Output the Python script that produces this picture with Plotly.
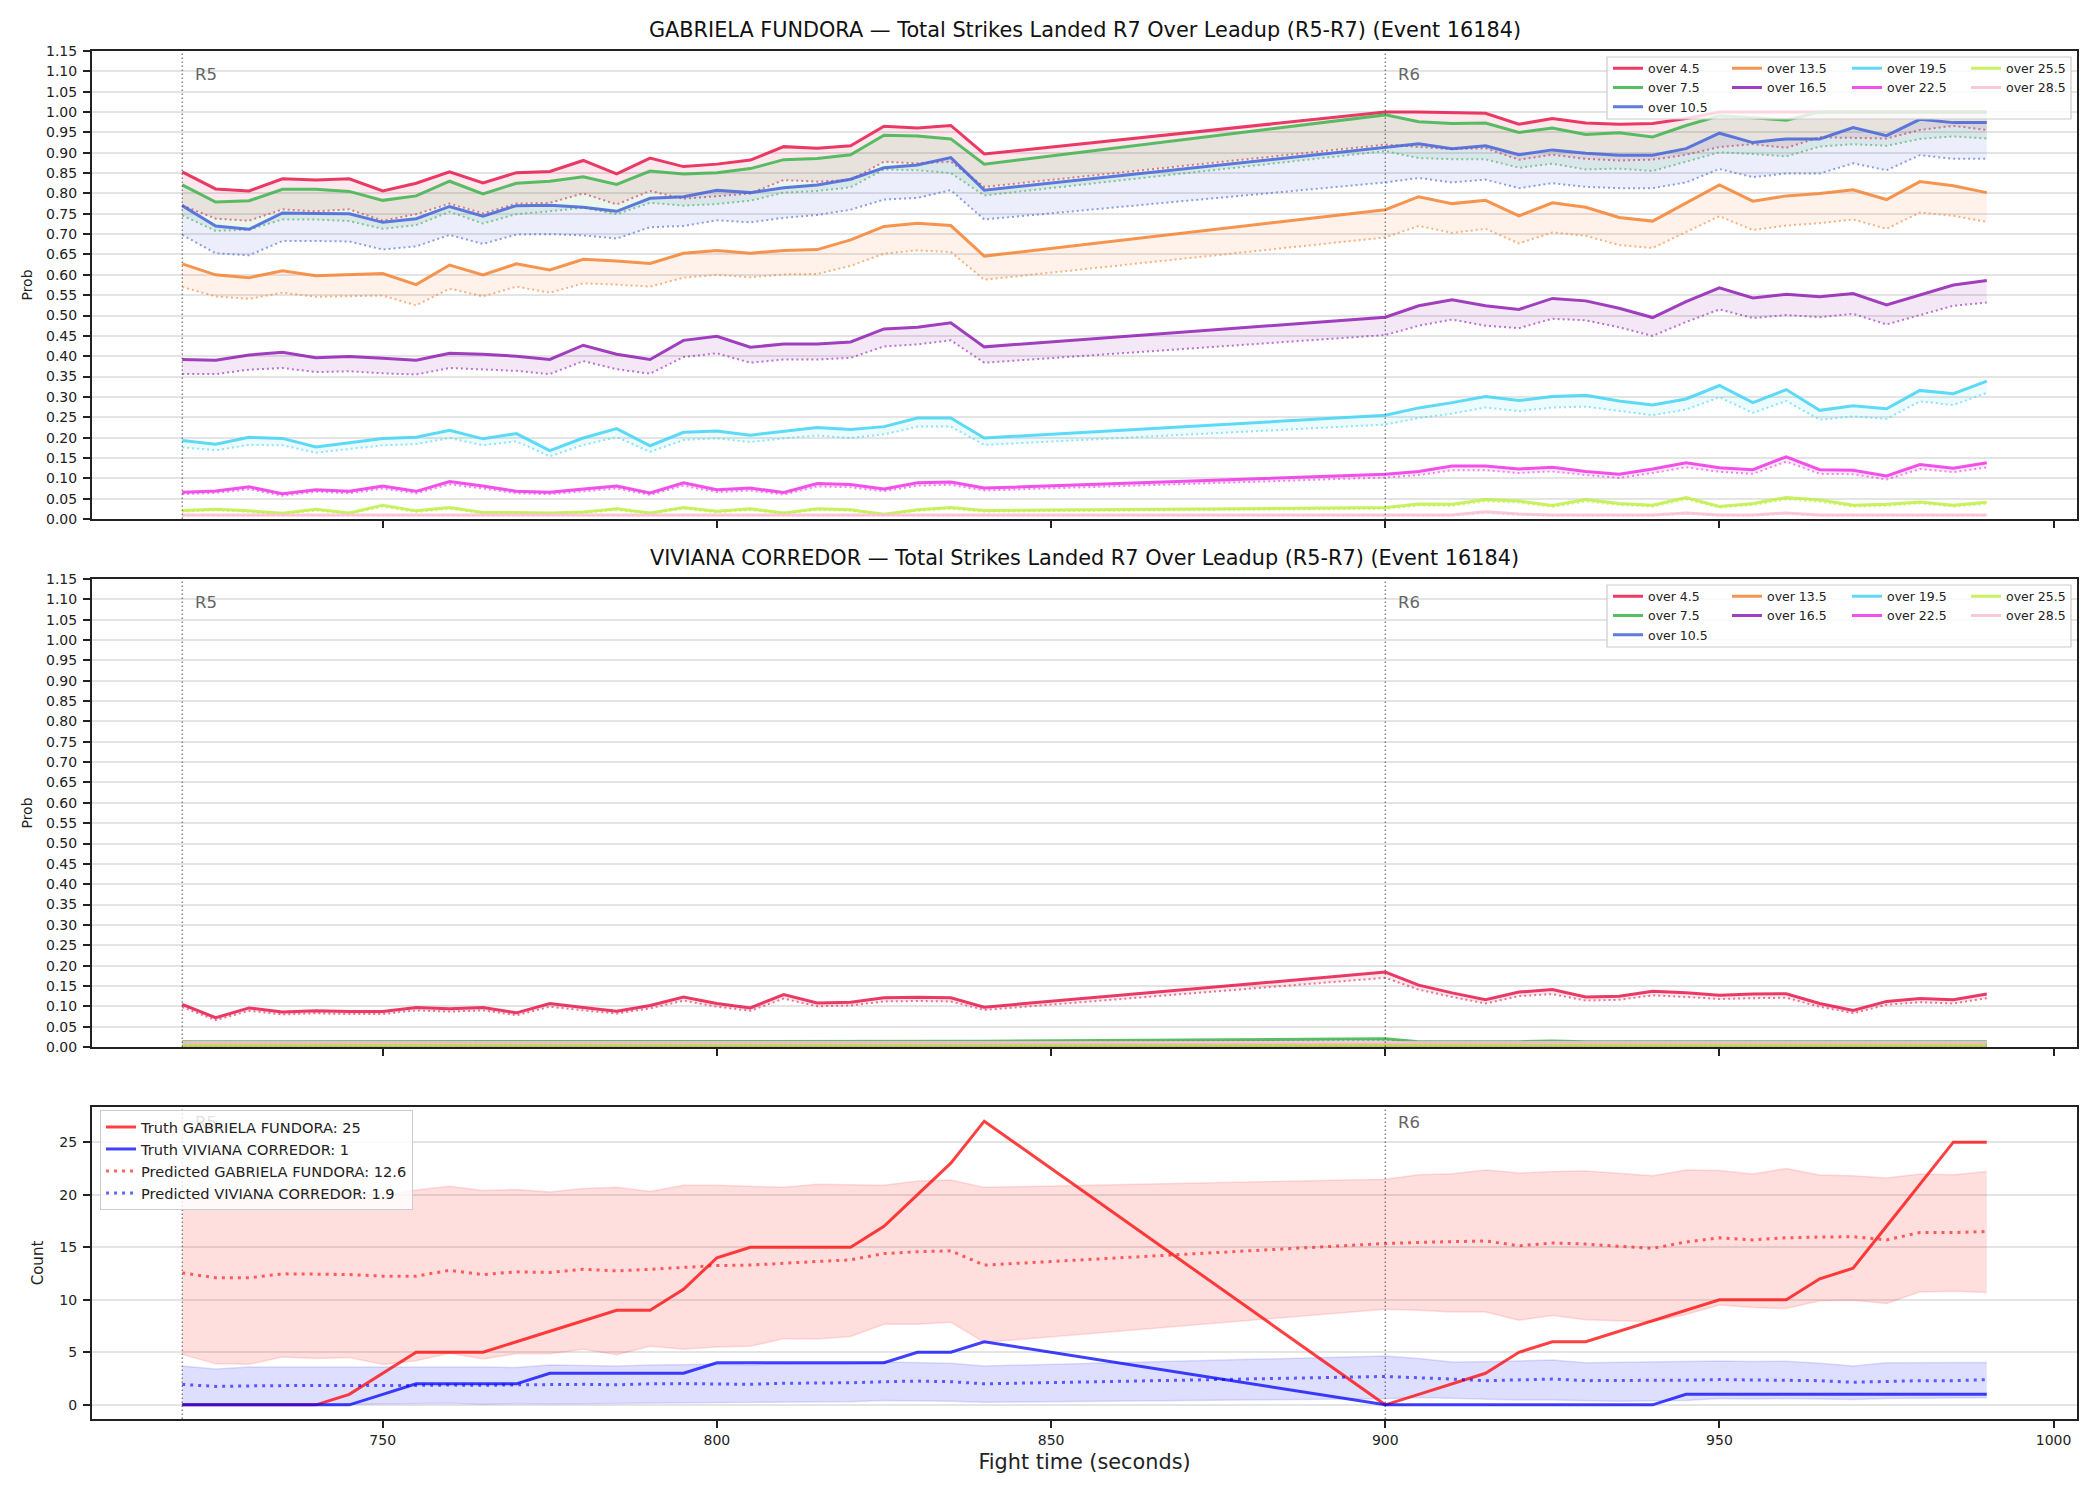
import plotly.graph_objects as go

W, H = 2100, 1500
FONT = "DejaVu Sans"

# ---------------- data ----------------
times = [720, 725, 730, 735, 740, 745, 750, 755, 760, 765, 770, 775, 780, 785, 790, 795,
         800, 805, 810, 815, 820, 825, 830, 835, 840,
         900, 905, 910, 915, 920, 925, 930, 935, 940, 945, 950, 955, 960, 965, 970, 975,
         980, 985, 990]

line_names = ["over 4.5", "over 7.5", "over 10.5", "over 13.5", "over 16.5",
              "over 19.5", "over 22.5", "over 25.5", "over 28.5"]

# GABRIELA FUNDORA (solid = a, dotted = b)
gf_o45_a = [0.853, 0.811, 0.806, 0.836, 0.833, 0.836, 0.806, 0.825, 0.853, 0.826, 0.851, 0.854, 0.881, 0.848, 0.887, 0.866, 0.872, 0.882, 0.915, 0.911, 0.917, 0.965, 0.961, 0.967, 0.897,
            1.000, 1.000, 0.999, 0.997, 0.970, 0.984, 0.973, 0.970, 0.972, 0.984, 1.000, 1.000, 1.000, 1.000, 1.000, 1.000, 1.000, 1.000, 1.000]
gf_o45_b = [0.771, 0.738, 0.733, 0.761, 0.756, 0.761, 0.733, 0.749, 0.775, 0.751, 0.775, 0.777, 0.800, 0.773, 0.806, 0.787, 0.793, 0.800, 0.833, 0.829, 0.833, 0.878, 0.874, 0.878, 0.816,
            0.920, 0.914, 0.909, 0.911, 0.883, 0.895, 0.885, 0.881, 0.883, 0.895, 0.914, 0.921, 0.912, 0.938, 0.936, 0.935, 0.956, 0.966, 0.956]
gf_o75_a = [0.821, 0.779, 0.782, 0.810, 0.810, 0.805, 0.783, 0.794, 0.830, 0.799, 0.825, 0.830, 0.841, 0.822, 0.855, 0.848, 0.851, 0.861, 0.883, 0.886, 0.895, 0.943, 0.941, 0.934, 0.872,
            0.993, 0.976, 0.972, 0.973, 0.950, 0.961, 0.945, 0.949, 0.939, 0.967, 0.991, 0.986, 0.980, 1.000, 1.000, 1.000, 1.000, 1.000, 1.000]
gf_o75_b = [0.746, 0.708, 0.711, 0.736, 0.736, 0.732, 0.713, 0.722, 0.755, 0.726, 0.749, 0.756, 0.765, 0.749, 0.777, 0.770, 0.774, 0.782, 0.802, 0.806, 0.815, 0.859, 0.857, 0.850, 0.795,
            0.904, 0.887, 0.884, 0.884, 0.863, 0.873, 0.859, 0.861, 0.855, 0.878, 0.901, 0.897, 0.891, 0.915, 0.921, 0.917, 0.934, 0.940, 0.935]
gf_o105_a = [0.770, 0.720, 0.712, 0.752, 0.751, 0.750, 0.729, 0.738, 0.768, 0.744, 0.770, 0.771, 0.766, 0.756, 0.788, 0.792, 0.808, 0.802, 0.814, 0.821, 0.835, 0.863, 0.870, 0.888, 0.808,
             0.912, 0.922, 0.910, 0.917, 0.895, 0.907, 0.899, 0.894, 0.894, 0.910, 0.948, 0.925, 0.934, 0.934, 0.962, 0.942, 0.982, 0.974, 0.974]
gf_o105_b = [0.698, 0.653, 0.648, 0.683, 0.683, 0.682, 0.662, 0.670, 0.698, 0.676, 0.699, 0.700, 0.697, 0.689, 0.717, 0.720, 0.734, 0.729, 0.740, 0.747, 0.760, 0.785, 0.789, 0.808, 0.736,
             0.827, 0.838, 0.827, 0.834, 0.813, 0.825, 0.816, 0.813, 0.813, 0.827, 0.860, 0.840, 0.849, 0.849, 0.874, 0.857, 0.894, 0.885, 0.885]
gf_o135_a = [0.627, 0.600, 0.593, 0.610, 0.598, 0.600, 0.603, 0.576, 0.624, 0.600, 0.627, 0.612, 0.638, 0.634, 0.628, 0.653, 0.660, 0.653, 0.660, 0.662, 0.686, 0.719, 0.727, 0.721, 0.646,
             0.760, 0.792, 0.775, 0.783, 0.745, 0.777, 0.766, 0.741, 0.732, 0.777, 0.821, 0.781, 0.794, 0.800, 0.809, 0.785, 0.829, 0.819, 0.802]
gf_o135_b = [0.570, 0.547, 0.541, 0.556, 0.546, 0.547, 0.549, 0.525, 0.566, 0.547, 0.571, 0.556, 0.579, 0.576, 0.571, 0.593, 0.600, 0.594, 0.601, 0.602, 0.622, 0.652, 0.660, 0.656, 0.588,
             0.692, 0.720, 0.703, 0.713, 0.677, 0.704, 0.696, 0.673, 0.666, 0.704, 0.744, 0.710, 0.721, 0.727, 0.736, 0.713, 0.753, 0.745, 0.730]
gf_o165_a = [0.392, 0.390, 0.403, 0.410, 0.396, 0.399, 0.395, 0.390, 0.407, 0.405, 0.400, 0.392, 0.427, 0.405, 0.392, 0.439, 0.449, 0.422, 0.430, 0.430, 0.435, 0.467, 0.471, 0.482, 0.423,
             0.496, 0.524, 0.539, 0.524, 0.515, 0.542, 0.536, 0.518, 0.495, 0.534, 0.568, 0.543, 0.552, 0.546, 0.554, 0.526, 0.551, 0.575, 0.586]
gf_o165_b = [0.356, 0.356, 0.367, 0.371, 0.361, 0.363, 0.358, 0.355, 0.371, 0.368, 0.364, 0.356, 0.388, 0.368, 0.357, 0.398, 0.407, 0.384, 0.392, 0.392, 0.396, 0.424, 0.429, 0.439, 0.384,
             0.452, 0.475, 0.490, 0.475, 0.469, 0.492, 0.488, 0.471, 0.450, 0.484, 0.515, 0.494, 0.501, 0.496, 0.504, 0.478, 0.501, 0.524, 0.532]
gf_o195_a = [0.193, 0.184, 0.201, 0.198, 0.177, 0.187, 0.198, 0.201, 0.218, 0.197, 0.210, 0.168, 0.199, 0.222, 0.180, 0.213, 0.216, 0.206, 0.216, 0.225, 0.220, 0.227, 0.248, 0.248, 0.199,
             0.255, 0.273, 0.286, 0.301, 0.291, 0.301, 0.304, 0.290, 0.280, 0.295, 0.328, 0.286, 0.318, 0.267, 0.278, 0.271, 0.316, 0.308, 0.339]
gf_o195_b = [0.176, 0.169, 0.182, 0.181, 0.163, 0.172, 0.181, 0.184, 0.199, 0.181, 0.191, 0.154, 0.182, 0.201, 0.165, 0.194, 0.198, 0.189, 0.198, 0.205, 0.199, 0.208, 0.227, 0.227, 0.182,
             0.232, 0.248, 0.259, 0.274, 0.265, 0.274, 0.276, 0.265, 0.255, 0.269, 0.299, 0.261, 0.290, 0.244, 0.252, 0.246, 0.289, 0.280, 0.310]
gf_o225_a = [0.066, 0.069, 0.079, 0.062, 0.072, 0.068, 0.081, 0.068, 0.092, 0.081, 0.068, 0.066, 0.074, 0.081, 0.064, 0.089, 0.072, 0.076, 0.065, 0.087, 0.085, 0.074, 0.089, 0.091, 0.076,
             0.110, 0.117, 0.130, 0.130, 0.123, 0.127, 0.117, 0.110, 0.123, 0.138, 0.126, 0.121, 0.153, 0.121, 0.120, 0.106, 0.134, 0.125, 0.138]
gf_o225_b = [0.061, 0.064, 0.073, 0.057, 0.067, 0.063, 0.075, 0.063, 0.085, 0.075, 0.063, 0.061, 0.068, 0.075, 0.059, 0.082, 0.066, 0.070, 0.060, 0.080, 0.078, 0.068, 0.082, 0.084, 0.070,
             0.102, 0.108, 0.120, 0.120, 0.113, 0.117, 0.108, 0.101, 0.113, 0.127, 0.116, 0.111, 0.141, 0.111, 0.110, 0.097, 0.123, 0.115, 0.127]
gf_o255_a = [0.021, 0.024, 0.020, 0.014, 0.024, 0.015, 0.034, 0.020, 0.028, 0.016, 0.016, 0.015, 0.017, 0.025, 0.015, 0.028, 0.019, 0.025, 0.015, 0.025, 0.023, 0.012, 0.023, 0.028, 0.021,
             0.028, 0.037, 0.036, 0.048, 0.044, 0.033, 0.048, 0.038, 0.034, 0.053, 0.031, 0.038, 0.053, 0.047, 0.034, 0.036, 0.042, 0.034, 0.041]
gf_o255_b = [0.018, 0.021, 0.017, 0.012, 0.021, 0.013, 0.030, 0.017, 0.025, 0.014, 0.014, 0.013, 0.015, 0.022, 0.013, 0.025, 0.016, 0.022, 0.013, 0.022, 0.020, 0.010, 0.020, 0.025, 0.018,
             0.025, 0.033, 0.032, 0.043, 0.040, 0.029, 0.043, 0.034, 0.030, 0.048, 0.028, 0.034, 0.048, 0.042, 0.030, 0.032, 0.038, 0.030, 0.037]
gf_o285_a = [0.010, 0.010, 0.010, 0.010, 0.010, 0.010, 0.010, 0.010, 0.010, 0.010, 0.010, 0.010, 0.010, 0.010, 0.010, 0.010, 0.010, 0.010, 0.010, 0.010, 0.010, 0.010, 0.010, 0.010, 0.010,
             0.011, 0.010, 0.010, 0.018, 0.012, 0.010, 0.010, 0.010, 0.010, 0.015, 0.010, 0.010, 0.015, 0.010, 0.010, 0.010, 0.010, 0.010, 0.010]
gf_o285_b = [0.008, 0.008, 0.008, 0.008, 0.008, 0.008, 0.008, 0.008, 0.008, 0.008, 0.008, 0.008, 0.008, 0.008, 0.008, 0.008, 0.008, 0.008, 0.008, 0.008, 0.008, 0.008, 0.008, 0.008, 0.008,
             0.009, 0.008, 0.008, 0.015, 0.010, 0.008, 0.008, 0.008, 0.008, 0.013, 0.008, 0.008, 0.013, 0.008, 0.008, 0.008, 0.008, 0.008, 0.008]

# VIVIANA CORREDOR
vc_o45_a = [0.105, 0.072, 0.096, 0.086, 0.089, 0.087, 0.087, 0.097, 0.094, 0.097, 0.084, 0.107, 0.097, 0.088, 0.102, 0.123, 0.107, 0.096, 0.129, 0.108, 0.110, 0.121, 0.122, 0.121, 0.098,
            0.184, 0.152, 0.133, 0.116, 0.135, 0.141, 0.123, 0.125, 0.137, 0.133, 0.127, 0.130, 0.131, 0.107, 0.090, 0.112, 0.119, 0.116, 0.130]
vc_o45_b = [0.098, 0.066, 0.089, 0.080, 0.083, 0.081, 0.081, 0.090, 0.087, 0.090, 0.078, 0.099, 0.090, 0.082, 0.095, 0.114, 0.099, 0.089, 0.119, 0.100, 0.102, 0.112, 0.113, 0.112, 0.091,
            0.170, 0.141, 0.123, 0.107, 0.125, 0.130, 0.114, 0.116, 0.127, 0.123, 0.118, 0.120, 0.121, 0.099, 0.083, 0.104, 0.110, 0.107, 0.120]
vc_o75_a = [0.013, 0.013, 0.013, 0.013, 0.013, 0.013, 0.013, 0.013, 0.013, 0.013, 0.013, 0.013, 0.013, 0.013, 0.013, 0.013, 0.013, 0.013, 0.014, 0.013, 0.013, 0.014, 0.014, 0.014, 0.014,
            0.020, 0.013, 0.013, 0.013, 0.013, 0.015, 0.013, 0.013, 0.013, 0.013, 0.014, 0.013, 0.013, 0.013, 0.013, 0.013, 0.013, 0.013, 0.013]
vc_o75_b = [0.011, 0.011, 0.011, 0.011, 0.011, 0.011, 0.011, 0.011, 0.011, 0.011, 0.011, 0.011, 0.011, 0.011, 0.011, 0.011, 0.011, 0.011, 0.012, 0.011, 0.011, 0.012, 0.012, 0.012, 0.012,
            0.017, 0.011, 0.011, 0.011, 0.011, 0.012, 0.011, 0.011, 0.011, 0.011, 0.012, 0.011, 0.011, 0.011, 0.011, 0.011, 0.011, 0.011, 0.011]
vc_mid_a = [0.004, 0.004, 0.004, 0.004, 0.004, 0.004, 0.004, 0.004, 0.004, 0.004, 0.004, 0.004, 0.004, 0.004, 0.004, 0.004, 0.004, 0.004, 0.004, 0.004, 0.004, 0.004, 0.004, 0.004, 0.004,
            0.004, 0.004, 0.004, 0.004, 0.004, 0.004, 0.004, 0.004, 0.004, 0.004, 0.004, 0.004, 0.004, 0.004, 0.004, 0.004, 0.004, 0.004, 0.004]
vc_mid_b = [0.003, 0.003, 0.003, 0.003, 0.003, 0.003, 0.003, 0.003, 0.003, 0.003, 0.003, 0.003, 0.003, 0.003, 0.003, 0.003, 0.003, 0.003, 0.003, 0.003, 0.003, 0.003, 0.003, 0.003, 0.003,
            0.003, 0.003, 0.003, 0.003, 0.003, 0.003, 0.003, 0.003, 0.003, 0.003, 0.003, 0.003, 0.003, 0.003, 0.003, 0.003, 0.003, 0.003, 0.003]
vc_o285_a = [0.011, 0.011, 0.011, 0.011, 0.011, 0.011, 0.011, 0.011, 0.011, 0.011, 0.011, 0.011, 0.011, 0.011, 0.011, 0.011, 0.011, 0.011, 0.011, 0.011, 0.011, 0.011, 0.011, 0.011, 0.011,
             0.011, 0.011, 0.011, 0.011, 0.011, 0.011, 0.011, 0.011, 0.011, 0.011, 0.011, 0.011, 0.011, 0.011, 0.011, 0.011, 0.011, 0.011, 0.011]
vc_o285_b = [0.009, 0.009, 0.009, 0.009, 0.009, 0.009, 0.009, 0.009, 0.009, 0.009, 0.009, 0.009, 0.009, 0.009, 0.009, 0.009, 0.009, 0.009, 0.009, 0.009, 0.009, 0.009, 0.009, 0.009, 0.009,
             0.009, 0.009, 0.009, 0.009, 0.009, 0.009, 0.009, 0.009, 0.009, 0.009, 0.009, 0.009, 0.009, 0.009, 0.009, 0.009, 0.009, 0.009, 0.009]

# Count panel
truth_gf = [0, 0, 0, 0, 0, 1, 3, 5, 5, 5, 6, 7, 8, 9, 9, 11, 14, 15, 15, 15, 15, 17, 20, 23, 27,
            0, 1, 2, 3, 5, 6, 6, 7, 8, 9, 10, 10, 10, 12, 13, 17, 21, 25, 25]
truth_vc = [0, 0, 0, 0, 0, 0, 1, 2, 2, 2, 2, 3, 3, 3, 3, 3, 4, 4, 4, 4, 4, 4, 5, 5, 6,
            0, 0, 0, 0, 0, 0, 0, 0, 0, 1, 1, 1, 1, 1, 1, 1, 1, 1, 1]
pred_gf = [12.56, 12.09, 12.09, 12.47, 12.44, 12.40, 12.25, 12.25, 12.80, 12.40, 12.66, 12.60, 12.90, 12.75, 12.90, 13.10, 13.26, 13.30, 13.50, 13.65, 13.80, 14.40, 14.57, 14.66, 13.30,
           15.36, 15.46, 15.50, 15.60, 15.14, 15.40, 15.30, 15.08, 14.89, 15.50, 15.90, 15.70, 15.90, 15.97, 16.00, 15.70, 16.40, 16.40, 16.50]
gf_hi = [20.3, 19.8, 19.9, 20.3, 20.2, 20.3, 19.9, 20.45, 20.8, 20.4, 20.5, 20.26, 20.58, 20.7, 20.3, 20.9, 20.9, 20.8, 20.7, 21.0, 20.96, 20.9, 21.3, 21.4, 20.7,
         21.47, 21.9, 22.0, 22.36, 22.07, 22.2, 22.26, 22.04, 21.8, 22.36, 22.3, 21.98, 22.5, 21.88, 21.8, 21.6, 21.98, 21.9, 22.2]
gf_lo = [4.8, 3.9, 3.85, 4.55, 4.4, 4.5, 3.85, 4.2, 4.9, 4.36, 4.87, 4.87, 5.3, 4.77, 5.57, 5.3, 5.5, 5.57, 6.3, 6.27, 6.5, 7.67, 7.67, 7.86, 5.95,
         9.1, 9.0, 8.84, 8.84, 8.05, 8.5, 8.1, 8.0, 7.9, 8.6, 9.5, 9.26, 9.16, 9.9, 9.96, 9.64, 10.75, 10.8, 10.7]
pred_vc = [1.94, 1.75, 1.80, 1.85, 1.85, 1.85, 1.82, 1.85, 1.88, 1.85, 1.90, 1.95, 1.95, 1.90, 2.00, 2.02, 2.00, 1.95, 2.05, 2.05, 2.10, 2.20, 2.26, 2.20, 2.00,
           2.70, 2.60, 2.45, 2.30, 2.35, 2.45, 2.30, 2.30, 2.30, 2.35, 2.40, 2.35, 2.35, 2.30, 2.15, 2.25, 2.30, 2.30, 2.40]
vc_hi = [3.7, 3.4, 3.6, 3.6, 3.6, 3.58, 3.6, 3.65, 3.65, 3.6, 3.55, 3.8, 3.75, 3.7, 3.8, 3.85, 3.85, 3.8, 3.9, 3.85, 3.9, 4.07, 4.0, 3.95, 3.7,
         4.64, 4.4, 4.07, 4.1, 4.17, 4.26, 4.0, 4.05, 4.1, 4.12, 4.17, 4.12, 4.15, 3.95, 3.7, 4.0, 4.02, 4.04, 4.04]
vc_lo = [0.03, 0.02, 0.05, 0.05, 0.05, 0.05, 0.08, 0.1, 0.15, 0.05, 0.12, 0.08, 0.1, 0.12, 0.15, 0.15, 0.18, 0.2, 0.25, 0.28, 0.3, 0.4, 0.4, 0.35, 0.25,
         0.57, 0.7, 0.6, 0.5, 0.45, 0.45, 0.4, 0.35, 0.38, 0.4, 0.6, 0.55, 0.6, 0.55, 0.5, 0.6, 0.62, 0.65, 0.67]

round_marks = [720, 900]
round_labels = ["R5", "R6"]
prob_ticks = [0.00, 0.05, 0.10, 0.15, 0.20, 0.25, 0.30, 0.35, 0.40, 0.45, 0.50, 0.55,
              0.60, 0.65, 0.70, 0.75, 0.80, 0.85, 0.90, 0.95, 1.00, 1.05, 1.10, 1.15]
count_ticks = [0, 5, 10, 15, 20, 25]
x_ticks = [750, 800, 850, 900, 950, 1000]

palette = [(230, 25, 75), (60, 180, 75), (67, 99, 216), (245, 130, 49), (145, 30, 180),
           (66, 212, 244), (240, 50, 230), (191, 239, 69), (250, 190, 212)]

gf_series = [(gf_o45_a, gf_o45_b), (gf_o75_a, gf_o75_b), (gf_o105_a, gf_o105_b),
             (gf_o135_a, gf_o135_b), (gf_o165_a, gf_o165_b), (gf_o195_a, gf_o195_b),
             (gf_o225_a, gf_o225_b), (gf_o255_a, gf_o255_b), (gf_o285_a, gf_o285_b)]
vc_series = [(vc_o45_a, vc_o45_b), (vc_o75_a, vc_o75_b), (vc_mid_a, vc_mid_b),
             (vc_mid_a, vc_mid_b), (vc_mid_a, vc_mid_b), (vc_mid_a, vc_mid_b),
             (vc_mid_a, vc_mid_b), (vc_mid_a, vc_mid_b), (vc_o285_a, vc_o285_b)]


def rgba(c, a):
    return f"rgba({c[0]},{c[1]},{c[2]},{a})"


def px(p):
    return p / W


def py(p):
    return 1 - p / H


# column of legend each threshold belongs to (4 columns, filled column by column)
legend_col = [0, 0, 0, 1, 1, 2, 2, 3, 3]

fig = go.Figure()


def add_panel(series, xa, ya, legend_offset):
    for i, (solid, dotted) in enumerate(series):
        c = palette[i]
        n = legend_offset + legend_col[i]
        lg = "legend" if n == 0 else f"legend{n + 1}"
        fig.add_trace(go.Scatter(x=times, y=solid, mode="lines", name=line_names[i],
                                 line=dict(color=rgba(c, 0.85), width=3),
                                 xaxis=xa, yaxis=ya, legend=lg, showlegend=True,
                                 hoverinfo="skip"))
        fig.add_trace(go.Scatter(x=times, y=dotted, mode="lines",
                                 line=dict(color=rgba(c, 0.6), width=2, dash="2px,3px"),
                                 fill="tonexty", fillcolor=rgba(c, 0.1),
                                 xaxis=xa, yaxis=ya, showlegend=False, hoverinfo="skip"))


add_panel(gf_series, "x", "y", 0)
add_panel(vc_series, "x2", "y2", 4)

# Count panel bands
red = (255, 0, 0)
blue = (0, 0, 255)
for lo, hi, c in [(gf_lo, gf_hi, red), (vc_lo, vc_hi, blue)]:
    fig.add_trace(go.Scatter(x=times, y=lo, mode="lines", line=dict(color=rgba(c, 0.12), width=1.5),
                             xaxis="x3", yaxis="y3", showlegend=False, hoverinfo="skip"))
    fig.add_trace(go.Scatter(x=times, y=hi, mode="lines", line=dict(color=rgba(c, 0.12), width=1.5),
                             fill="tonexty", fillcolor=rgba(c, 0.13),
                             xaxis="x3", yaxis="y3", showlegend=False, hoverinfo="skip"))

fig.add_trace(go.Scatter(x=times, y=truth_gf, mode="lines", name=f"Truth GABRIELA FUNDORA: {truth_gf[-1]}",
                         line=dict(color=rgba(red, 0.75), width=3), xaxis="x3", yaxis="y3",
                         legend="legend9", hoverinfo="skip"))
fig.add_trace(go.Scatter(x=times, y=truth_vc, mode="lines", name=f"Truth VIVIANA CORREDOR: {truth_vc[-1]}",
                         line=dict(color=rgba(blue, 0.75), width=3), xaxis="x3", yaxis="y3",
                         legend="legend9", hoverinfo="skip"))
fig.add_trace(go.Scatter(x=times, y=pred_gf, mode="lines", name=f"Predicted GABRIELA FUNDORA: {pred_gf[0]:.1f}",
                         line=dict(color=rgba(red, 0.6), width=3, dash="3px,5px"), xaxis="x3", yaxis="y3",
                         legend="legend9", hoverinfo="skip"))
fig.add_trace(go.Scatter(x=times, y=pred_vc, mode="lines", name=f"Predicted VIVIANA CORREDOR: {pred_vc[0]:.1f}",
                         line=dict(color=rgba(blue, 0.6), width=3, dash="3px,5px"), xaxis="x3", yaxis="y3",
                         legend="legend9", hoverinfo="skip"))

# ---------------- layout ----------------
xdom = [px(92), px(2077)]
panels = {
    "1": [py(519), py(51)],
    "2": [py(1047), py(579)],
    "3": [py(1419), py(1107)],
}

axis_common = dict(showline=True, mirror=True, linecolor="#222222", linewidth=2,
                   ticks="outside", ticklen=7, tickwidth=1.5, tickcolor="#222222",
                   zeroline=False, tickfont=dict(family=FONT, size=14, color="#222222"))

layout = dict(
    width=W, height=H, plot_bgcolor="white", paper_bgcolor="white",
    margin=dict(l=0, r=0, t=0, b=0), hovermode=False,
    font=dict(family=FONT, color="#222222"),
)

for k, dom in panels.items():
    xs = "xaxis" if k == "1" else f"xaxis{k}"
    ys = "yaxis" if k == "1" else f"yaxis{k}"
    ya_name = "y" if k == "1" else f"y{k}"
    xa_name = "x" if k == "1" else f"x{k}"
    layout[xs] = dict(domain=xdom, anchor=ya_name, range=[706.5, 1003.5], tickmode="array",
                      tickvals=x_ticks, showgrid=False, showticklabels=(k == "3"),
                      automargin=False, **axis_common)
    if k in ("1", "2"):
        layout[ys] = dict(domain=dom, anchor=xa_name, range=[0, 1.15], tickmode="array",
                          tickvals=prob_ticks, ticktext=[f"{v:.2f}" for v in prob_ticks],
                          showgrid=True, gridcolor="#e4e4e4", gridwidth=1.5,
                          title=dict(text="Prob", font=dict(family=FONT, size=14), standoff=10),
                          automargin=False, ticklabelstandoff=3, **axis_common)
    else:
        layout[ys] = dict(domain=dom, anchor=xa_name, range=[-1.35, 28.35], tickmode="array",
                          tickvals=count_ticks, showgrid=True, gridcolor="#e4e4e4", gridwidth=1.5,
                          title=dict(text="Count", font=dict(family=FONT, size=15), standoff=12),
                          automargin=False, ticklabelstandoff=3, **axis_common)

layout["xaxis3"]["title"] = dict(text="Fight time (seconds)", font=dict(family=FONT, size=20.8), standoff=8)

# legends: 4 columns per probability panel + one in count panel
col_left = [1608, 1727, 1847, 1966]
for p_i, top in enumerate([53.5, 581.5]):
    for c_i, left in enumerate(col_left):
        idx = p_i * 4 + c_i
        key = "legend" if idx == 0 else f"legend{idx + 1}"
        layout[key] = dict(x=px(left), y=py(top), xanchor="left", yanchor="top",
                           bgcolor="rgba(0,0,0,0)", borderwidth=0, orientation="v",
                           traceorder="normal",
                           font=dict(family=FONT, size=12.5, color="#222222"),
                           tracegroupgap=0, itemwidth=30)
layout["legend9"] = dict(x=px(100), y=py(1110), xanchor="left", yanchor="top",
                         bgcolor="rgba(255,255,255,0.8)", bordercolor="#cccccc", borderwidth=1,
                         traceorder="normal",
                         font=dict(family=FONT, size=14.6, color="#222222"), tracegroupgap=0,
                         itemwidth=30)

shapes = []
# legend frames for multi-column legends
for off in [0, 528]:
    shapes.append(dict(type="rect", xref="paper", yref="paper", x0=px(1607), x1=px(2071),
                       y0=py(119 + off), y1=py(57 + off), layer="above",
                       fillcolor="rgba(255,255,255,0.8)", line=dict(color="#cccccc", width=1.2)))
# round markers
for k in ["", "2", "3"]:
    for xm in round_marks:
        shapes.append(dict(type="line", xref=f"x{k}", yref=f"y{k} domain", x0=xm, x1=xm, y0=0, y1=1,
                           layer="above", line=dict(color="rgba(60,60,60,0.75)", width=1.2, dash="1.5px,2.5px")))
layout["shapes"] = shapes

annotations = [
    dict(text="GABRIELA FUNDORA — Total Strikes Landed R7 Over Leadup (R5-R7) (Event 16184)",
         xref="paper", yref="paper", x=(xdom[0] + xdom[1]) / 2, y=py(30), xanchor="center",
         yanchor="middle", showarrow=False, font=dict(family=FONT, size=20.8, color="#111111")),
    dict(text="VIVIANA CORREDOR — Total Strikes Landed R7 Over Leadup (R5-R7) (Event 16184)",
         xref="paper", yref="paper", x=(xdom[0] + xdom[1]) / 2, y=py(558), xanchor="center",
         yanchor="middle", showarrow=False, font=dict(family=FONT, size=20.8, color="#111111")),
]
for k in ["", "2", "3"]:
    for xm, lab in zip(round_marks, round_labels):
        faint = (k == "3" and lab == "R5")
        annotations.append(dict(text=lab, xref=f"x{k}", yref=f"y{k} domain", x=xm, y=0.95,
                                xanchor="left", yanchor="middle", xshift=11, showarrow=False,
                                font=dict(family=FONT, size=16.5,
                                          color="rgba(100,100,100,0.2)" if faint else "#666666")))
layout["annotations"] = annotations

fig.update_layout(**layout)
fig.write_html("out.html")
